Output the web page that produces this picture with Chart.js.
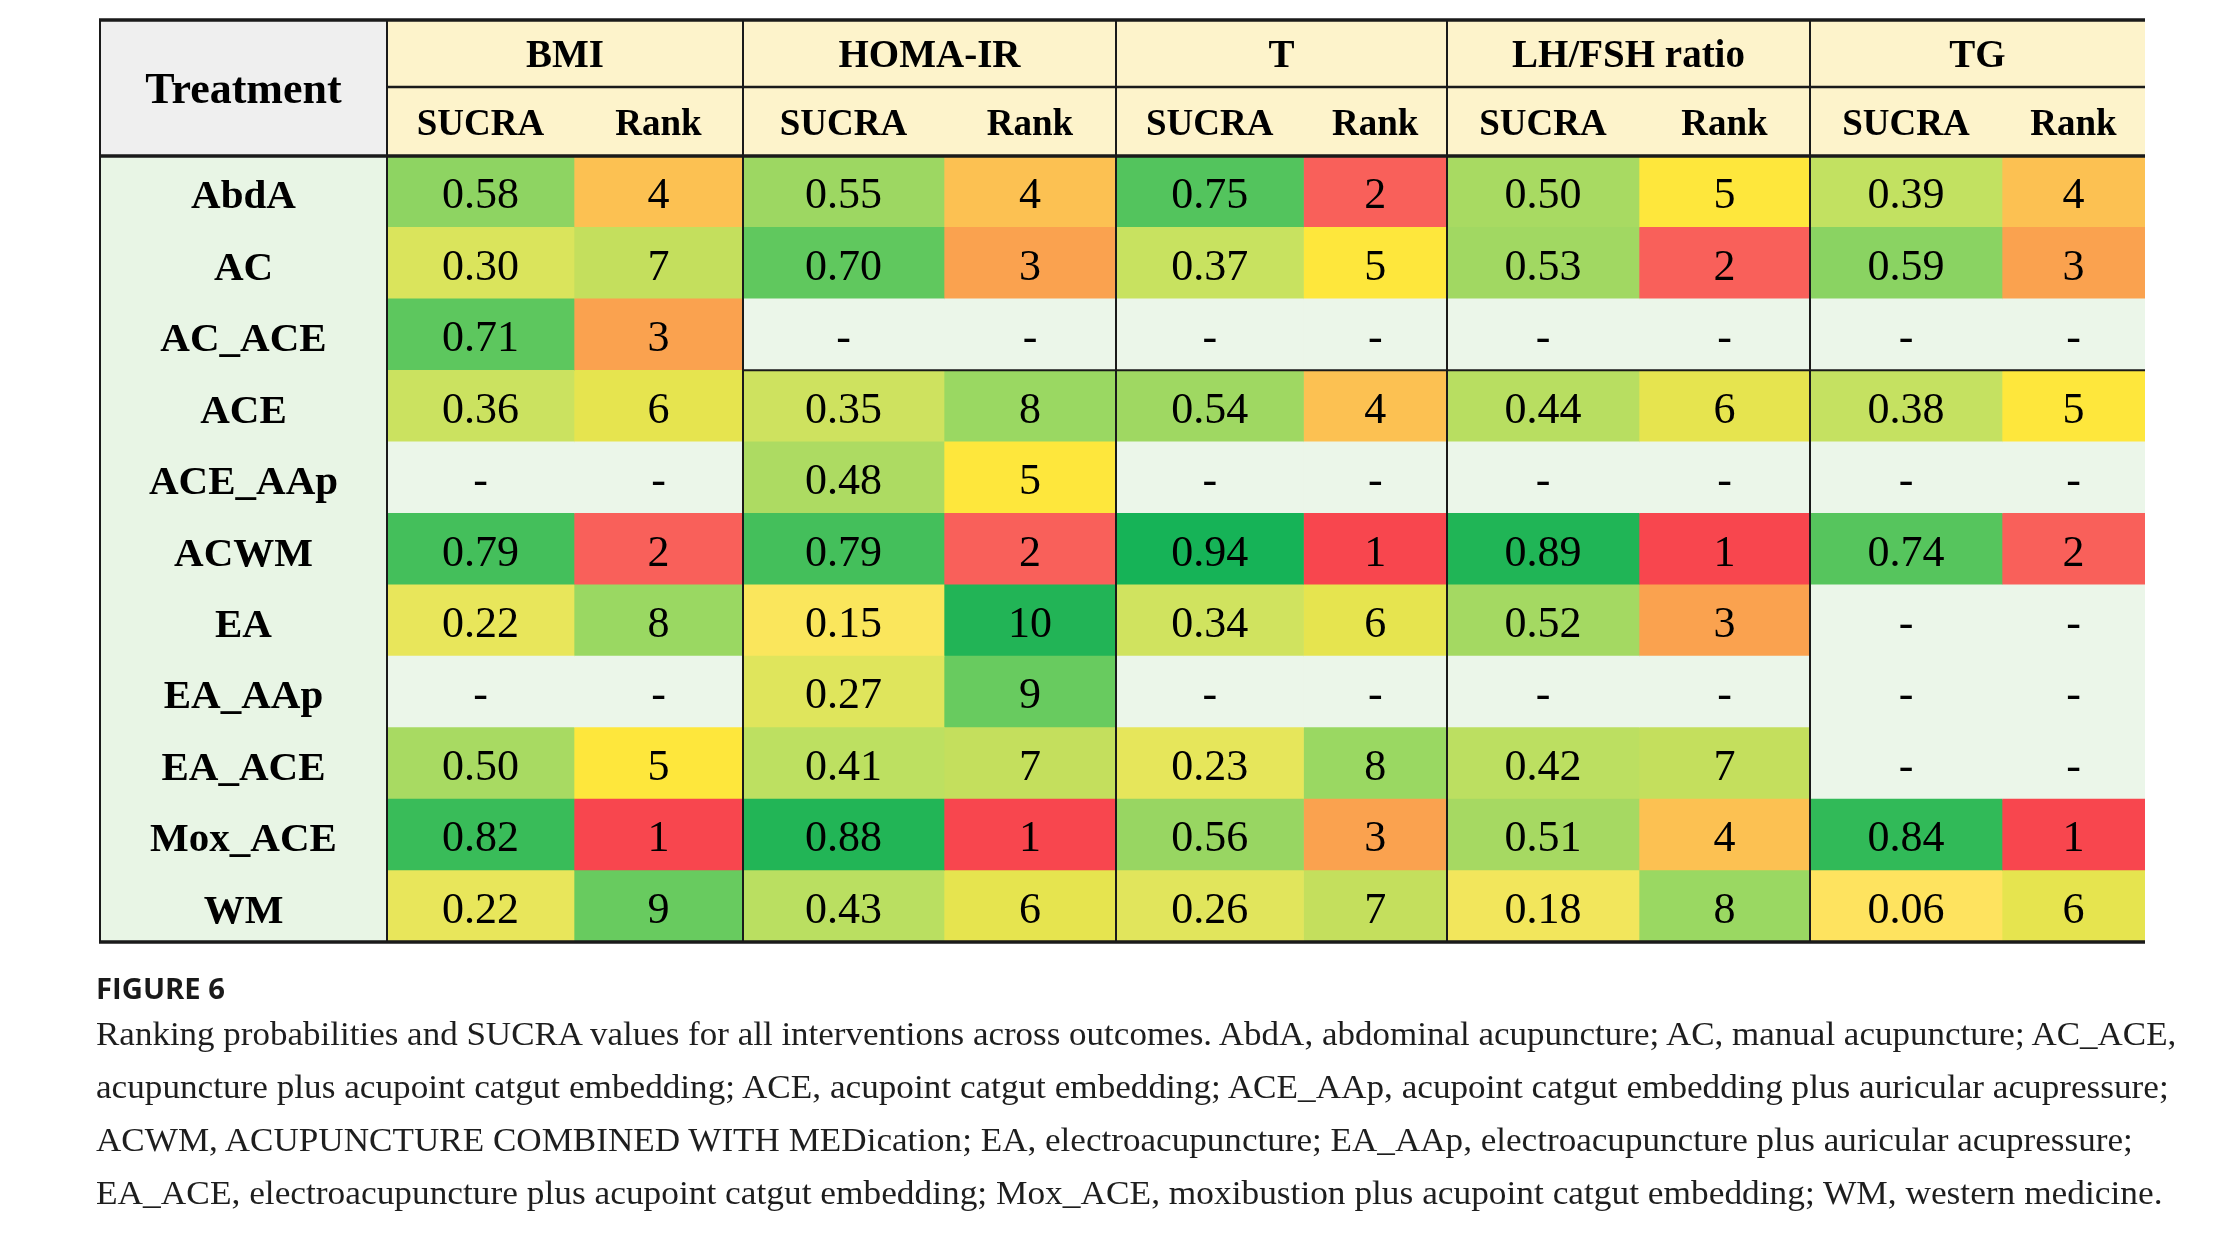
<!DOCTYPE html>
<html>
<head>
<meta charset="utf-8">
<script src="https://cdn.jsdelivr.net/npm/chart.js@4.4.1/dist/chart.umd.min.js"></script>
<style>
html,body{margin:0;padding:0;background:#ffffff;}
#wrap{position:relative;width:2224px;height:1245px;overflow:hidden;}
#c{position:absolute;left:0;top:0;}
.cap{position:absolute;left:96px;top:0;white-space:nowrap;font-family:"Liberation Serif";font-size:33px;line-height:33px;color:#1e1e1e;transform-origin:0 0;}
#fig{position:absolute;left:96px;top:0;white-space:nowrap;font-family:"Open Sans";font-weight:700;font-size:29px;line-height:29px;color:#1a1a1a;transform-origin:0 0;}
</style>
</head>
<body>
<div id="wrap">
<canvas id="c" width="2224" height="1245"></canvas>
<div id="fig">FIGURE 6</div>
<div class="cap" id="l1">Ranking probabilities and SUCRA values for all interventions across outcomes. AbdA, abdominal acupuncture; AC, manual acupuncture; AC_ACE,</div>
<div class="cap" id="l2">acupuncture plus acupoint catgut embedding; ACE, acupoint catgut embedding; ACE_AAp, acupoint catgut embedding plus auricular acupressure;</div>
<div class="cap" id="l3">ACWM, ACUPUNCTURE COMBINED WITH MEDication; EA, electroacupuncture; EA_AAp, electroacupuncture plus auricular acupressure;</div>
<div class="cap" id="l4">EA_ACE, electroacupuncture plus acupoint catgut embedding; Mox_ACE, moxibustion plus acupoint catgut embedding; WM, western medicine.</div>
</div>
<script>
// ---------------- DATA ----------------
const treatments = ['AbdA','AC','AC_ACE','ACE','ACE_AAp','ACWM','EA','EA_AAp','EA_ACE','Mox_ACE','WM'];
const outcomes = ['BMI','HOMA-IR','T','LH/FSH ratio','TG'];
const subHeaders = ['SUCRA','Rank'];
const bmiSucra  = [0.58,0.30,0.71,0.36,null,0.79,0.22,null,0.50,0.82,0.22];
const bmiRank   = [4,7,3,6,null,2,8,null,5,1,9];
const homaSucra = [0.55,0.70,null,0.35,0.48,0.79,0.15,0.27,0.41,0.88,0.43];
const homaRank  = [4,3,null,8,5,2,10,9,7,1,6];
const tSucra    = [0.75,0.37,null,0.54,null,0.94,0.34,null,0.23,0.56,0.26];
const tRank     = [2,5,null,4,null,1,6,null,8,3,7];
const lhSucra   = [0.50,0.53,null,0.44,null,0.89,0.52,null,0.42,0.51,0.18];
const lhRank    = [5,2,null,6,null,1,3,null,7,4,8];
const tgSucra   = [0.39,0.59,null,0.38,null,0.74,null,null,null,0.84,0.06];
const tgRank    = [4,3,null,5,null,2,null,null,null,1,6];

// ---------------- LAYOUT / STYLE ----------------
const EDGES = [0,287,474,643,844,1016,1203.5,1347,1539,1710,1902,2045]; // column edges in x-scale units
const HEAD1 = 67, HEAD2 = 69;
const SERIF = '"Liberation Serif"';
const LINE = '#1a1a1a';
const TREAT_BG = '#e8f5e5', DASH_BG = '#ebf6e9', HEAD_BG = '#fdf3cb', TREAT_HEAD_BG = '#efefef';

const sucraStops = [[0.06,'#fee35f'],[0.15,'#fae65c'],[0.22,'#e8e65b'],[0.30,'#dae45c'],[0.36,'#cbe260'],[0.40,'#bfe061'],[0.44,'#b8de61'],[0.50,'#a8da62'],[0.55,'#9dd762'],[0.58,'#8ed462'],[0.70,'#60c85e'],[0.75,'#53c45d'],[0.80,'#40be5a'],[0.88,'#22b556'],[0.94,'#16b357']];
const rankStops = [[1,'#f8464e'],[2,'#f9605a'],[3,'#faa24f'],[4,'#fcc152'],[5,'#fee73c'],[6,'#e6e44f'],[7,'#c4df5d'],[8,'#9ad862'],[9,'#68cb5f'],[10,'#22b456']];

function hex(h){return [parseInt(h.slice(1,3),16),parseInt(h.slice(3,5),16),parseInt(h.slice(5,7),16)];}
function scaleColor(stops,v){
  if(v==null) return DASH_BG;
  if(v<=stops[0][0]) return stops[0][1];
  for(let i=1;i<stops.length;i++){
    if(v<=stops[i][0]){
      const t=(v-stops[i-1][0])/(stops[i][0]-stops[i-1][0]);
      const a=hex(stops[i-1][1]), b=hex(stops[i][1]);
      return 'rgb('+a.map((c,k)=>Math.round(c+(b[k]-c)*t)).join(',')+')';
    }
  }
  return stops[stops.length-1][1];
}

const columns = [
  {values:bmiSucra, kind:'sucra'},{values:bmiRank, kind:'rank'},
  {values:homaSucra, kind:'sucra'},{values:homaRank, kind:'rank'},
  {values:tSucra, kind:'sucra'},{values:tRank, kind:'rank'},
  {values:lhSucra, kind:'sucra'},{values:lhRank, kind:'rank'},
  {values:tgSucra, kind:'sucra'},{values:tgRank, kind:'rank'}
];

const datasets = [{
  label:'Treatment',
  data: treatments.map(()=>[EDGES[0],EDGES[1]]),
  backgroundColor: TREAT_BG
}];
columns.forEach((col,i)=>{
  datasets.push({
    label: outcomes[Math.floor(i/2)]+' '+subHeaders[i%2],
    data: treatments.map(()=>[EDGES[i+1],EDGES[i+2]]),
    backgroundColor: col.values.map(v=> v==null ? DASH_BG : scaleColor(col.kind==='sucra'?sucraStops:rankStops, v))
  });
});

function fmt(v,kind){ if(v==null) return '-'; return kind==='sucra' ? v.toFixed(2) : String(v); }

const tablePlugin = {
  id:'tableDecor',
  afterDatasetsDraw(chart){
    const {ctx, chartArea:a, scales:{x,y}} = chart;
    const X = v => x.getPixelForValue(v);
    const top0 = a.top - HEAD1 - HEAD2;
    const mid = a.top - HEAD2;
    const L = X(EDGES[0]), R = X(EDGES[EDGES.length-1]);
    ctx.save();
    ctx.fillStyle = TREAT_HEAD_BG; ctx.fillRect(L, top0, X(EDGES[1])-L, a.top-top0);
    ctx.fillStyle = HEAD_BG; ctx.fillRect(X(EDGES[1]), top0, R-X(EDGES[1]), a.top-top0);
    ctx.fillStyle = '#000';
    ctx.textAlign = 'center';
    ctx.textBaseline = 'alphabetic';
    ctx.font = 'bold 44px '+SERIF;
    ctx.fillText('Treatment', (L+X(EDGES[1]))/2, (top0+a.top)/2 + 15);
    ctx.font = 'bold 39px '+SERIF;
    outcomes.forEach((o,g)=>{
      const x0 = X(EDGES[1+2*g]), x1 = X(EDGES[3+2*g]);
      ctx.fillText(o, (x0+x1)/2, (top0+mid)/2 + 13.5);
    });
    ctx.font = 'bold 37px '+SERIF;
    columns.forEach((c,i)=>{
      const x0 = X(EDGES[i+1]), x1 = X(EDGES[i+2]);
      ctx.fillText(subHeaders[i%2], (x0+x1)/2, (mid+a.top)/2 + 13.5);
    });
    treatments.forEach((t,r)=>{
      const cy = y.getPixelForValue(r);
      ctx.font = 'bold 41px '+SERIF;
      ctx.fillText(t, (L+X(EDGES[1]))/2, cy + 16.5);
      ctx.font = '44px '+SERIF;
      columns.forEach((c,i)=>{
        const x0 = X(EDGES[i+1]), x1 = X(EDGES[i+2]);
        ctx.fillText(fmt(c.values[r], c.kind), (x0+x1)/2, cy + 16.5);
      });
    });
    ctx.strokeStyle = LINE;
    const hline = (y0,xa,xb,w)=>{ctx.lineWidth=w;ctx.beginPath();ctx.moveTo(xa,y0);ctx.lineTo(xb,y0);ctx.stroke();};
    const vline = (x0,ya,yb,w)=>{ctx.lineWidth=w;ctx.beginPath();ctx.moveTo(x0,ya);ctx.lineTo(x0,yb);ctx.stroke();};
    [EDGES[0],EDGES[1],EDGES[3],EDGES[5],EDGES[7],EDGES[9]].forEach(e=>vline(X(e), top0, a.bottom, 2));
    hline(top0, L-1, R, 3.5);
    hline(mid, X(EDGES[1]), R, 2.5);
    hline(a.top, L-1, R, 3.5);
    hline(a.bottom, L-1, R, 3.5);
    const rb = (y.getPixelForValue(2)+y.getPixelForValue(3))/2;
    hline(rb, X(EDGES[3]), R, 2);
    ctx.restore();
  }
};

function place(el, baseline, right){
  const probe = document.createElement('span');
  probe.style.cssText='display:inline-block;width:0;height:0;vertical-align:baseline;';
  el.appendChild(probe);
  const b = probe.offsetTop;
  el.style.top = (baseline - b) + 'px';
  const w = el.scrollWidth;
  el.style.transform = 'scaleX(' + ((right - 96)/w) + ')';
}

function build(){
  new Chart(document.getElementById('c'), {
    type:'bar',
    data:{ labels: treatments, datasets },
    options:{
      indexAxis:'y',
      responsive:false,
      animation:false,
      devicePixelRatio:1,
      layout:{ padding:{ left:100, right:79, top:156, bottom:303 } },
      datasets:{ bar:{ grouped:false, barPercentage:1, categoryPercentage:1, borderWidth:0, borderSkipped:false } },
      scales:{
        x:{ type:'linear', min:0, max:2045, display:false },
        y:{ type:'category', display:false, offset:true }
      },
      plugins:{ legend:{display:false}, tooltip:{enabled:false} }
    },
    plugins:[tablePlugin]
  });
  place(document.getElementById('fig'), 999, 225);
  place(document.getElementById('l1'), 1045, 2176);
  place(document.getElementById('l2'), 1098, 2169);
  place(document.getElementById('l3'), 1151, 2133);
  place(document.getElementById('l4'), 1204, 2162);
}

Promise.all([
  document.fonts.load('bold 44px "Liberation Serif"'),
  document.fonts.load('44px "Liberation Serif"'),
  document.fonts.load('bold 29px "Open Sans"')
]).then(build, build);
</script>
</body>
</html>
